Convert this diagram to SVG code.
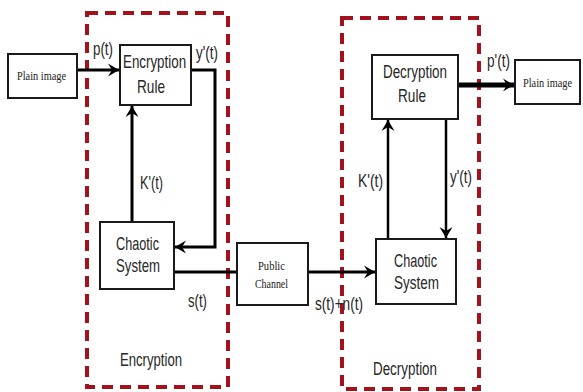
<svg xmlns="http://www.w3.org/2000/svg" width="583" height="392" viewBox="0 0 583 392">
  <style>
    .zone { fill: none; stroke: #a3121c; stroke-width: 4; stroke-dasharray: 11 7; }
    .box { fill: #ffffff; stroke: #1a1a1a; stroke-width: 2; }
    .wire { fill: none; stroke: #000000; stroke-linejoin: miter; }
    .lbl { font-family: "Liberation Sans", Arial, sans-serif; font-size: 18px; fill: #262626; }
    .big { font-size: 19px; }
    .ser { font-family: "Liberation Serif", "Times New Roman", serif; font-size: 12px; fill: #1a1a1a; }
  </style>
  <defs>
    <marker id="head" viewBox="-12 -7 13 14" refX="0" refY="0" markerWidth="13" markerHeight="14" markerUnits="userSpaceOnUse" orient="auto">
      <path d="M0,0 L-11,-6.5 L-7,0 L-11,6.5 Z" fill="#000000"/>
    </marker>
  </defs>
  <rect width="583" height="392" fill="#ffffff"/>

  <!-- dashed zones -->
  <g id="zone-encryption">
    <rect class="zone" x="87" y="13" width="141" height="374"/>
    <text class="lbl" x="120" y="366" textLength="62" lengthAdjust="spacingAndGlyphs">Encryption</text>
  </g>
  <g id="zone-decryption">
    <rect class="zone" x="342" y="18" width="137" height="371"/>
    <text class="lbl" x="373" y="375" textLength="64" lengthAdjust="spacingAndGlyphs">Decryption</text>
  </g>

  <!-- connectors -->
  <g id="connectors">
    <path class="wire" stroke-width="3" d="M77,70 H119" marker-end="url(#head)"/>
    <path class="wire" stroke-width="3" d="M191,70 H215 V247 H175" marker-end="url(#head)"/>
    <path class="wire" stroke-width="3" d="M132,222 V106" marker-end="url(#head)"/>
    <path class="wire" stroke-width="3" d="M174,272 H237"/>
    <path class="wire" stroke-width="3" d="M308,272 H375" marker-end="url(#head)"/>
    <path class="wire" stroke-width="2.5" d="M388,239 V120" marker-end="url(#head)"/>
    <path class="wire" stroke-width="2.5" d="M446,119 V238" marker-end="url(#head)"/>
    <path class="wire" stroke-width="5" d="M458,85 H514" marker-end="url(#head)"/>
    <text class="lbl" x="93" y="55" textLength="20" lengthAdjust="spacingAndGlyphs">p(t)</text>
    <text class="lbl" x="196" y="59" textLength="22" lengthAdjust="spacingAndGlyphs">y'(t)</text>
    <text class="lbl" x="140" y="189" textLength="23" lengthAdjust="spacingAndGlyphs">K'(t)</text>
    <text class="lbl" x="188" y="307" textLength="19" lengthAdjust="spacingAndGlyphs">s(t)</text>
    <text class="lbl" x="315" y="310" textLength="48" lengthAdjust="spacingAndGlyphs">s(t)+n(t)</text>
    <text class="lbl" x="358" y="187" textLength="25" lengthAdjust="spacingAndGlyphs">K'(t)</text>
    <text class="lbl" x="450" y="183" textLength="22" lengthAdjust="spacingAndGlyphs">y'(t)</text>
    <text class="lbl" x="487" y="67" textLength="23" lengthAdjust="spacingAndGlyphs">p'(t)</text>
  </g>

  <!-- nodes -->
  <g id="plain-image-in">
    <rect class="box" x="8" y="54" width="69" height="44" stroke-width="1.5"/>
    <text class="ser" x="17" y="80" textLength="49" lengthAdjust="spacingAndGlyphs">Plain image</text>
  </g>
  <g id="encryption-rule">
    <rect class="box" x="120" y="45" width="71" height="60"/>
    <text class="lbl" transform="translate(123,68) scale(0.76,1)" x="0" y="0" textLength="83" lengthAdjust="spacingAndGlyphs">Encryption</text>
    <text class="lbl big" x="137" y="93" textLength="28" lengthAdjust="spacingAndGlyphs">Rule</text>
  </g>
  <g id="chaotic-system-enc">
    <rect class="box" x="100" y="222" width="74" height="67"/>
    <text class="lbl big" x="116" y="250" textLength="43" lengthAdjust="spacingAndGlyphs">Chaotic</text>
    <text class="lbl big" x="116" y="272" textLength="44" lengthAdjust="spacingAndGlyphs">System</text>
  </g>
  <g id="public-channel">
    <rect class="box" x="237" y="243" width="71" height="62" stroke-width="1.5"/>
    <text class="ser" x="258" y="270" textLength="27" lengthAdjust="spacingAndGlyphs">Public</text>
    <text class="ser" x="255" y="288" textLength="33" lengthAdjust="spacingAndGlyphs">Channel</text>
  </g>
  <g id="decryption-rule">
    <rect class="box" x="372" y="55" width="86" height="64"/>
    <text class="lbl" x="383" y="78" textLength="64" lengthAdjust="spacingAndGlyphs">Decryption</text>
    <text class="lbl big" x="398" y="102" textLength="28" lengthAdjust="spacingAndGlyphs">Rule</text>
  </g>
  <g id="chaotic-system-dec">
    <rect class="box" x="376" y="239" width="80" height="65"/>
    <text class="lbl big" x="394" y="267" textLength="43" lengthAdjust="spacingAndGlyphs">Chaotic</text>
    <text class="lbl big" x="394" y="289" textLength="45" lengthAdjust="spacingAndGlyphs">System</text>
  </g>
  <g id="plain-image-out">
    <rect class="box" x="515" y="60" width="65" height="44" stroke-width="1.5"/>
    <text class="ser" x="523" y="87" textLength="49" lengthAdjust="spacingAndGlyphs">Plain image</text>
  </g>
</svg>
